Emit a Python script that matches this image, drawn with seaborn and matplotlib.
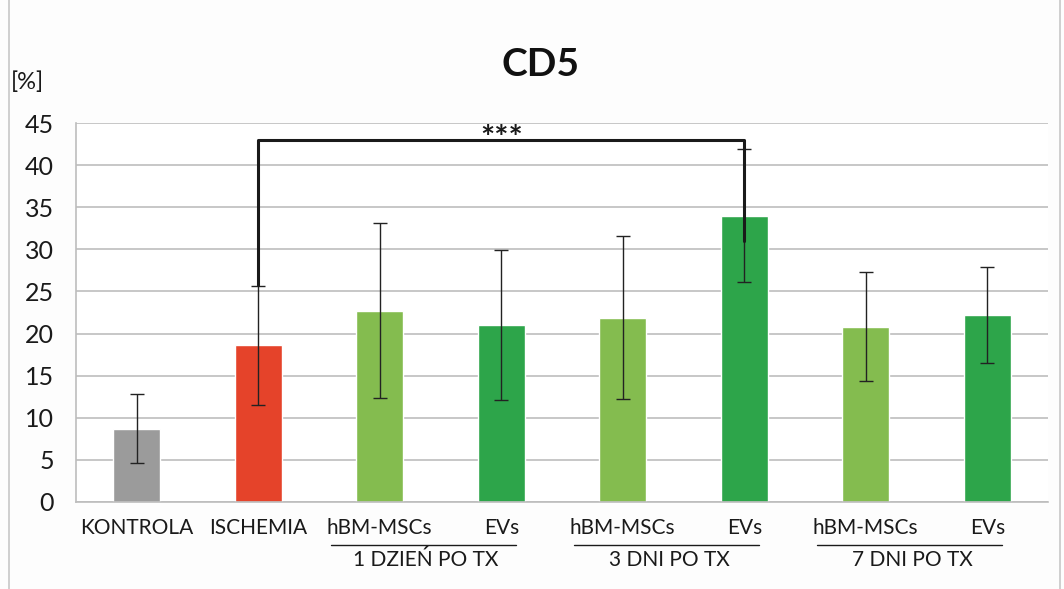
import matplotlib
matplotlib.use("Agg")
import matplotlib.pyplot as plt
import matplotlib.transforms as mtransforms
from matplotlib.patches import Rectangle
import seaborn as sns
import pandas as pd

# data
groups = ["KONTROLA", "ISCHEMIA", "hBM-MSCs 1", "EVs 1", "hBM-MSCs 3", "EVs 3", "hBM-MSCs 7", "EVs 7"]
tick_labels = ["KONTROLA", "ISCHEMIA", "hBM-MSCs", "EVs", "hBM-MSCs", "EVs", "hBM-MSCs", "EVs"]
means = [8.7, 18.6, 22.7, 21.0, 21.9, 34.0, 20.8, 22.2]
errors = [4.1, 7.1, 10.4, 8.9, 9.7, 7.9, 6.5, 5.7]
colors = ["#9b9b9b", "#e5432a", "#84bc4f", "#2da54a", "#84bc4f", "#2da54a", "#84bc4f", "#2da54a"]
time_labels = ["1 DZIEŃ PO TX", "3 DNI PO TX", "7 DNI PO TX"]
time_pairs = [(2, 3), (4, 5), (6, 7)]
bracket = (1, 5, 43.0, 25.8, 31.0)  # from, to, height, left foot, right foot

sns.set_style("white")
plt.rcParams["font.family"] = ["Lato", "DejaVu Sans"]

df = pd.DataFrame({"group": groups, "value": means})

fig = plt.figure(figsize=(10.64, 5.89), dpi=100, facecolor="#fdfdfd")
ax = fig.add_axes([0.0714, 0.148, 0.9136, 0.643])
ax.set_facecolor("white")

sns.barplot(data=df, x="group", y="value", hue="group", palette=colors,
            width=0.39, legend=False, ax=ax, saturation=1)
ax.errorbar(range(len(groups)), means, yerr=errors, fmt="none",
            ecolor="#222222", elinewidth=1.0, capsize=5, capthick=1.0, zorder=3)

ax.set_ylim(0, 45)
ax.set_xlim(-0.5, len(groups) - 0.5)
ax.set_yticks(range(0, 46, 5))
ax.tick_params(axis="y", labelsize=18, length=8, width=1.2, color="#bdbdbd",
               pad=8, labelcolor="#1a1a1a")
ax.yaxis.grid(True, color="#bdbdbd", linewidth=1.2)
ax.set_axisbelow(True)
for s in ["top", "right"]:
    ax.spines[s].set_visible(False)
for s in ["bottom", "left"]:
    ax.spines[s].set_color("#bdbdbd")
    ax.spines[s].set_linewidth(1.2)
ax.set_xlabel("")
ax.set_ylabel("")
ax.set_xticks([i - 0.5 for i in range(len(groups) + 1)])
ax.set_xticklabels([])
ax.tick_params(axis="x", length=8, color="#bdbdbd", width=1.2)

trans = mtransforms.blended_transform_factory(ax.transData, ax.transAxes)
for i, lab in enumerate(tick_labels):
    ax.text(i, -0.07, lab, transform=trans, ha="center", va="center",
            fontsize=15, color="#1a1a1a", clip_on=False)
for lab, (a, b) in zip(time_labels, time_pairs):
    ax.plot([a - 0.4, b + 0.12], [-0.115, -0.115], transform=trans,
            color="#1a1a1a", linewidth=1.0, clip_on=False)
    ax.text((a + b) / 2 - 0.12, -0.153, lab, transform=trans, ha="center",
            va="center", fontsize=15, color="#1a1a1a", clip_on=False)

# significance bracket
x0, x1, h, y0, y1 = bracket
ax.plot([x0, x0, x1, x1], [y0, h, h, y1], color="#1a1a1a", linewidth=2.2,
        zorder=4, clip_on=False)
ax.text((x0 + x1) / 2, h - 1.7, "***", ha="center", va="bottom",
        fontsize=24, fontweight="bold", color="#1a1a1a", clip_on=False, zorder=5)

fig.text(0.508, 0.89, "CD5", ha="center", va="center", fontsize=28,
         fontweight="bold", color="#111111")
fig.text(0.01, 0.86, "[%]", ha="left", va="center", fontsize=17, color="#1a1a1a")

fig.patches.append(Rectangle((0.008, -0.01), 0.988, 1.02, transform=fig.transFigure,
                             fill=False, edgecolor="#c8c8c8", linewidth=1.2))

fig.savefig("out.png", dpi=100, facecolor=fig.get_facecolor())
